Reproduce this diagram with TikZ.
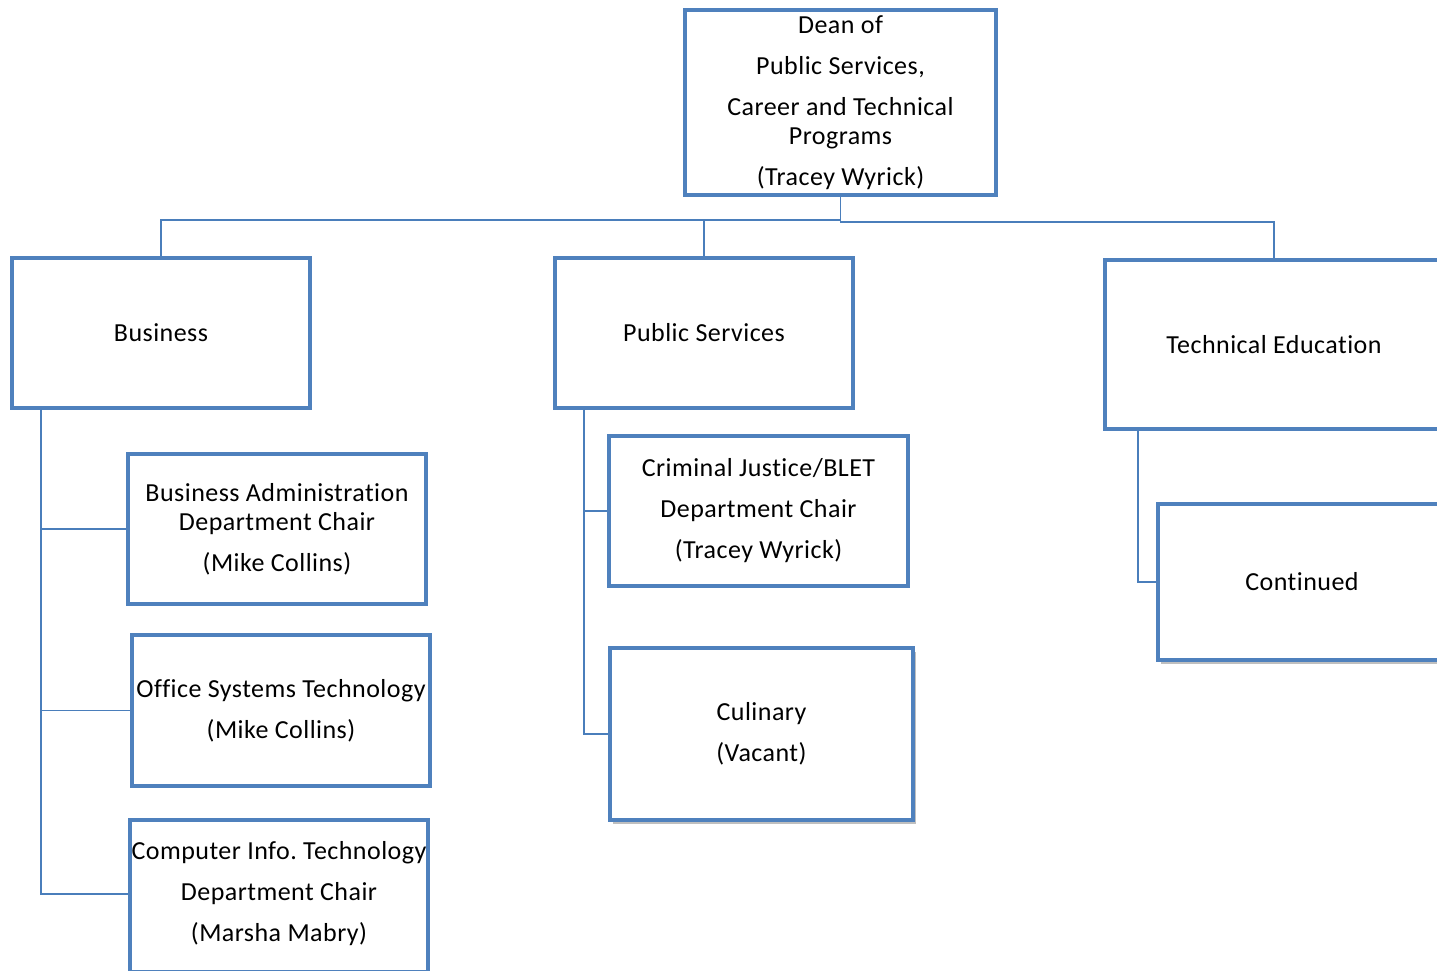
\documentclass[tikz,border=0pt]{standalone}
\usepackage{fontspec}
\setmainfont{Carlito}[LetterSpace=1.8, Ligatures=NoCommon]
\usetikzlibrary{shadows}
\definecolor{obl}{HTML}{4F81BD}
\definecolor{cbl}{HTML}{4A7EBB}
\frenchspacing
\begin{document}
\begin{tikzpicture}[x=1pt,y=-1pt,
  box/.style={draw=obl, line width=3.6pt, fill=white, align=center, inner sep=0pt,
    font=\fontsize{26}{29}\selectfont, text=black},
  shad/.style={drop shadow={shadow xshift=3pt, shadow yshift=-4pt, opacity=0.5, fill=black!50}},
  conn/.style={draw=cbl, line width=1.6pt}]
\useasboundingbox (0,0) rectangle (1437,971);
\clip (0,0) rectangle (1437,971);
\coordinate (jl) at (840.5,220);
\coordinate (jr) at (840.5,222);
\coordinate (bx) at (41,0);
\coordinate (px) at (584,0);
\coordinate (tx) at (1138,0);
% boxes
\node[box, minimum width=311, minimum height=185] (dean) at (840.5,102.5)
  {Dean of\\[12pt]Public Services,\\[12pt]Career and Technical\\Programs\\[12pt](Tracey Wyrick)};
\node[box, minimum width=298, minimum height=150] (bus) at (161,333) {Business};
\node[box, minimum width=298, minimum height=150] (pub) at (704,333) {Public Services};
\node[box, minimum width=338, minimum height=169] (tech) at (1274,344.5) {Technical Education};
\node[box, minimum width=298, minimum height=150] (ba) at (277,529)
  {Business Administration\\Department Chair\\[12pt](Mike Collins)};
\node[box, minimum width=298, minimum height=151] (ost) at (281,710.5)
  {Office Systems Technology\\[12pt](Mike Collins)};
\node[box, minimum width=298, minimum height=152] (cit) at (279,896) {};
\node[align=center, inner sep=0pt, font=\fontsize{26}{29}\selectfont] (citt) at (279,894)
  {Computer Info.\ Technology\\[12pt]Department Chair\\[12pt](Marsha Mabry)};
\node[box, minimum width=299, minimum height=150] (cj) at (758.5,511)
  {Criminal Justice/BLET\\[12pt]Department Chair\\[12pt](Tracey Wyrick)};
\node[box, shad, minimum width=303, minimum height=172] (cul) at (761.5,734)
  {Culinary\\[12pt](Vacant)};
\node[box, shad, minimum width=288, minimum height=156] (cont) at (1302,582) {Continued};
% connectors
\draw[conn] (dean.south) -- (jl) -| (bus.north);
\draw[conn] (jl) -| (pub.north);
\draw[conn] (jl) -- (jr) -| (tech.north);
\draw[conn] (bus.south -| bx) |- (ba.west);
\draw[conn] (bus.south -| bx) |- (ost.west);
\draw[conn] (bus.south -| bx) |- (citt.west -| cit.west);
\draw[conn] (pub.south -| px) |- (cj.west);
\draw[conn] (pub.south -| px) |- (cul.west);
\draw[conn] (tech.south -| tx) |- (cont.west);
\end{tikzpicture}
\end{document}
